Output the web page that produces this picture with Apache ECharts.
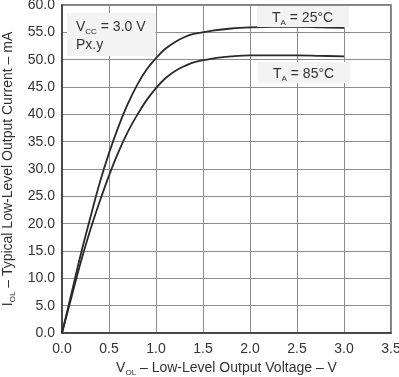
<!DOCTYPE html>
<html>
<head>
<meta charset="utf-8">
<script src="https://cdn.jsdelivr.net/npm/echarts@6/dist/echarts.min.js"></script>
<style>
  html, body { margin: 0; padding: 0; background: #fff; }
  #chart { width: 399px; height: 377px; }
</style>
</head>
<body>
<div id="chart"></div>
<script>
// V_OL (volts) sample points
const voltage = [0, 0.1, 0.2, 0.3, 0.4, 0.5, 0.6, 0.7, 0.8, 0.9, 1.0, 1.1, 1.2, 1.3, 1.4, 1.6, 1.8, 2.0, 2.25, 2.5, 2.75, 3.0];
// I_OL (mA)
const current25 = [0, 7.2, 14.4, 21.0, 27.4, 32.9, 37.7, 41.9, 45.4, 48.2, 50.3, 52.0, 53.2, 54.1, 54.7, 55.3, 55.7, 55.9, 56.0, 56.0, 55.9, 55.8];
const current85 = [0, 6.5, 13.0, 18.8, 24.0, 28.8, 33.1, 36.8, 39.9, 42.6, 44.8, 46.6, 47.9, 48.8, 49.5, 50.2, 50.6, 50.8, 50.8, 50.8, 50.7, 50.6];

const xTicks = { min: 0, max: 3.5, interval: 0.5 };
const yTicks = { min: 0, max: 60, interval: 5 };

const FONT = '"Liberation Sans", Arial, sans-serif';
const TEXT = '#333333';
const GRID = '#8c8c8c';

const pair = (ys) => voltage.map((v, i) => [v, ys[i]]);

const chart = echarts.init(document.getElementById('chart'), null, { renderer: 'canvas' });

const curve = (name, ys) => ({
  name,
  type: 'line',
  data: pair(ys),
  smooth: 0.4,
  symbol: 'none',
  lineStyle: { color: '#2a2a2a', width: 1.8 },
  z: 5,
});

const subRich = (lh, key) => ({
  m: { fontSize: 14, [key]: TEXT, fontFamily: FONT, lineHeight: lh, verticalAlign: 'bottom' },
  s: { fontSize: 8, [key]: TEXT, fontFamily: FONT, lineHeight: lh, verticalAlign: 'bottom', padding: [0, 0, -2, 0] },
});

chart.setOption({
  animation: false,
  backgroundColor: '#fff',
  textStyle: { fontFamily: FONT },
  grid: {
    left: 62, right: 8, top: 5, bottom: 44,
    containLabel: false, outerBoundsMode: 'none',
    show: true, borderColor: '#555', borderWidth: 1.5, backgroundColor: 'transparent',
  },
  xAxis: {
    type: 'value',
    ...xTicks,
    name: '{m|V}{s|OL}{m| – Low-Level Output Voltage – V}',
    nameLocation: 'middle',
    nameGap: 26,
    nameTextStyle: { rich: subRich(16, 'color') },
    axisLine: { show: true, lineStyle: { color: '#333', width: 1.5 } },
    axisTick: { show: false },
    axisLabel: { color: TEXT, fontSize: 14, margin: 9, formatter: (v) => v.toFixed(1), fontFamily: FONT },
    splitLine: { show: true, lineStyle: { color: GRID, width: 1 } },
  },
  yAxis: {
    type: 'value',
    ...yTicks,
    name: '{m|I}{s|OL}{m| – Typical Low-Level Output Current – mA}',
    nameLocation: 'middle',
    nameRotate: 90,
    nameGap: 46,
    nameTextStyle: { rich: subRich(16, 'color') },
    axisLine: { show: true, lineStyle: { color: '#333', width: 1.5 } },
    axisTick: { show: false },
    axisLabel: { color: TEXT, fontSize: 14, margin: 7, formatter: (v) => v.toFixed(1), fontFamily: FONT },
    splitLine: { show: true, lineStyle: { color: GRID, width: 1 } },
  },
  graphic: [
    {
      type: 'text', left: 67, top: 13, z: 10,
      style: {
        text: '{m|V}{s|CC}{m| = 3.0 V}\n{m|Px.y}',
        backgroundColor: '#f3f3f3',
        padding: [3, 10, 4, 9],
        rich: subRich(18, 'fill'),
      },
    },
    {
      type: 'text', left: 257, top: 6, z: 10,
      style: {
        text: '{m|T}{s|A}{m| = 25°C}',
        backgroundColor: '#f3f3f3',
        padding: [1, 16, 2, 15],
        rich: subRich(18, 'fill'),
      },
    },
    {
      type: 'text', left: 258, top: 62, z: 10,
      style: {
        text: '{m|T}{s|A}{m| = 85°C}',
        backgroundColor: '#f3f3f3',
        padding: [1, 16, 2, 15],
        rich: subRich(18, 'fill'),
      },
    },
  ],
  series: [
    curve('TA = 25°C', current25),
    curve('TA = 85°C', current85),
  ],
});
</script>
</body>
</html>
